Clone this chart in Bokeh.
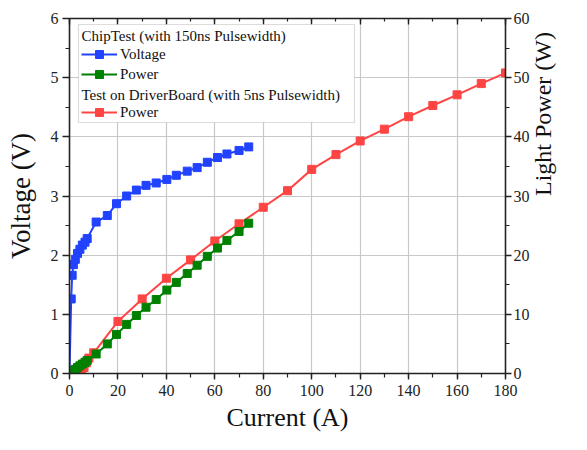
import math
from bokeh.plotting import figure
from bokeh.models import (LinearAxis, Range1d, Legend, LegendItem, Label,
                          BoxAnnotation, SingleIntervalTicker, CustomJSTickFormatter)
from bokeh.embed import file_html
from bokeh.resources import INLINE

# ChipTest (150ns pulse width)
chip_current = [0, 0.7, 1.1, 1.6, 2.4, 3.3, 4.3, 5.3, 6.4, 7.3, 11, 15.6, 19.4, 23.6,
                27.6, 31.6, 35.8, 40.2, 44.1, 48.6, 52.7, 56.9, 61.1, 65, 70, 74]
chip_voltage = [0, 1.26, 1.66, 1.84, 1.93, 2.03, 2.10, 2.17, 2.22, 2.28, 2.56, 2.67, 2.87, 3.00,
                3.10, 3.18, 3.22, 3.28, 3.35, 3.42, 3.48, 3.57, 3.65, 3.71, 3.77, 3.83]
chip_power = [0, 0.2, 0.3, 0.45, 0.7, 1.0, 1.3, 1.6, 1.9, 2.2, 3.3, 5.0, 6.6, 8.3,
              9.8, 11.2, 12.5, 14.1, 15.4, 16.9, 18.3, 19.8, 21.2, 22.5, 24.0, 25.4]

# Test on DriverBoard (5ns pulse width)
board_current = [5, 6, 7, 8, 10, 20, 30, 40, 50, 60, 70, 80, 90, 100, 110, 120,
                 130, 140, 150, 160, 170, 180]
board_power = [0.2, 1.0, 1.8, 2.6, 3.5, 8.8, 12.6, 16.1, 19.2, 22.4, 25.3, 28.1, 30.9,
               34.5, 37.0, 39.3, 41.3, 43.4, 45.3, 47.1, 49.0, 50.8]

x_ticks_interval = 20
FONT = "Liberation Serif"
BLUE = "#2142ff"
GREEN = "#008000"
RED = "#ff4444"
AXC = "#222222"

W, H = 571, 434
BL, BR, BT, BB = 69, 50, 18, 60
FH = H - BT - BB  # frame height in px

p = figure(width=W, height=H, x_range=Range1d(0, 180), y_range=Range1d(0, 6),
           output_backend="svg", toolbar_location=None,
           min_border_left=BL, min_border_right=BR, min_border_top=BT, min_border_bottom=BB)
p.extra_y_ranges = {"power": Range1d(0, 60)}
p.outline_line_color = None
p.background_fill_color = "white"


def style_axis(ax, label=None, size="27px"):
    ax.axis_line_color = AXC
    ax.axis_line_width = 1.6
    ax.major_tick_line_color = AXC
    ax.minor_tick_line_color = AXC
    ax.major_tick_line_width = 1.4
    ax.minor_tick_line_width = 1.2
    ax.major_label_text_font = FONT
    ax.major_label_text_font_size = "16px"
    ax.major_label_text_color = "#222222"
    ax.axis_label_text_font = FONT
    ax.axis_label_text_font_size = size
    ax.axis_label_text_font_style = "normal"
    ax.axis_label_text_color = "#111111"
    ax.axis_label = label


xticker = SingleIntervalTicker(interval=x_ticks_interval, num_minor_ticks=2)
yticker = SingleIntervalTicker(interval=1, num_minor_ticks=2)
pticker = SingleIntervalTicker(interval=10, num_minor_ticks=2)

xa = p.xaxis[0]
style_axis(xa, "Current (A)", "26px")
xa.ticker = xticker
xa.major_tick_out = 6
xa.major_tick_in = 0
xa.minor_tick_out = 4
xa.minor_tick_in = 0
xa.major_label_standoff = 5
xa.axis_label_standoff = 4

ya = p.yaxis[0]
style_axis(ya, "Voltage (V)")
ya.ticker = yticker
ya.major_tick_out = 7
ya.major_tick_in = 0
ya.minor_tick_out = 4
ya.minor_tick_in = 0
ya.major_label_standoff = 4
ya.axis_label_standoff = 12

ra = LinearAxis(y_range_name="power", ticker=pticker)
style_axis(ra, "Light Power (W)", "24px")
ra.major_tick_out = 6
ra.major_tick_in = 0
ra.minor_tick_out = 4
ra.minor_tick_in = 0
ra.major_label_standoff = 2
ra.axis_label_standoff = 10
try:
    ra.axis_label_orientation = math.pi / 2
except Exception:
    pass
p.add_layout(ra, "right")

ta = LinearAxis(ticker=SingleIntervalTicker(interval=x_ticks_interval, num_minor_ticks=2),
                formatter=CustomJSTickFormatter(code="return ''"))
style_axis(ta, None)
ta.major_label_standoff = 0
ta.major_tick_out = 0
ta.major_tick_in = 6
ta.minor_tick_out = 0
ta.minor_tick_in = 3
p.add_layout(ta, "above")

p.xgrid.ticker = xticker
p.xgrid.grid_line_color = "#c8c8c8"
p.xgrid.grid_line_width = 1.2
p.ygrid.grid_line_color = "#c8c8c8"
p.ygrid.grid_line_width = 1.2

rl = p.line(board_current, board_power, y_range_name="power", line_color=RED, line_width=2)
rs = p.scatter(board_current, board_power, y_range_name="power", marker="square", size=8,
               fill_color=RED, line_color=RED)
bl = p.line(chip_current, chip_voltage, line_color=BLUE, line_width=2)
bs = p.scatter(chip_current, chip_voltage, marker="square", size=8, fill_color=BLUE, line_color=BLUE)
gl = p.line(chip_current, chip_power, y_range_name="power", line_color=GREEN, line_width=2)
gs = p.scatter(chip_current, chip_power, y_range_name="power", marker="square", size=8,
               fill_color=GREEN, line_color=GREEN)

# legend panel, positioned relative to the top of the frame
box = BoxAnnotation(left=9, right=285, top=FH - 7, bottom=FH - 105,
                    left_units="screen", right_units="screen", top_units="screen", bottom_units="screen",
                    fill_color="white", fill_alpha=1.0, line_color="#8a8a8a", line_width=1.2)
p.add_layout(box)

for txt, off in [("ChipTest (with 150ns Pulsewidth)", 18.5),
                 ("Test on DriverBoard (with 5ns Pulsewidth)", 77)]:
    p.add_layout(Label(x=12, y=FH - off, x_units="screen", y_units="screen", text=txt,
                       text_font=FONT, text_font_size="15px", text_baseline="middle",
                       text_color="#111111"))


def make_legend(items, loc):
    lg = Legend(items=items, location=loc, padding=0, margin=0, spacing=0,
                border_line_color=None, background_fill_alpha=0,
                label_text_font=FONT, label_text_font_size="15px", label_text_color="#111111",
                glyph_width=36, glyph_height=20, label_height=20, label_standoff=3)
    return lg


lg1 = make_legend([LegendItem(label="Voltage", renderers=[bl, bs]),
                   LegendItem(label="Power", renderers=[gl, gs])], (12, FH - 67))
lg2 = make_legend([LegendItem(label="Power", renderers=[rl, rs])], (12, FH - 105))
p.add_layout(lg1)
p.add_layout(lg2)

open("out.html", "w").write(file_html(p, INLINE))
